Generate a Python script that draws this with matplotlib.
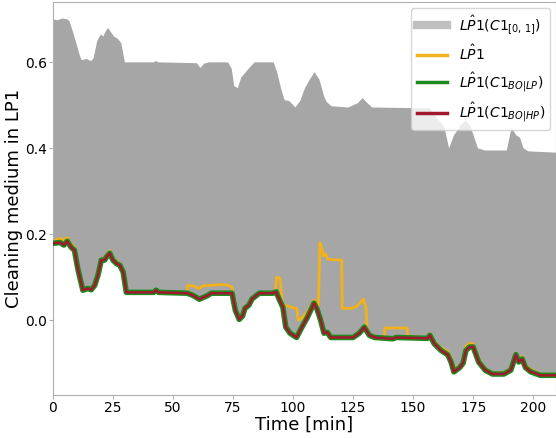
import numpy as np
import matplotlib
matplotlib.use("Agg")
import matplotlib.pyplot as plt
from matplotlib.lines import Line2D

# lower edge of the C1 sweep and the BO trajectories (time in min)
lp_t = [0, 3, 4.6, 6, 7.6, 9, 10.4, 12.5, 14.6, 16, 17.4, 18.8, 20.2, 21.6, 22.3,
        23.7, 25, 26.5, 27.9, 29.3, 30.6, 42, 43, 44, 56, 58.3, 61, 64.6, 66, 74.6,
        76, 77.6, 79, 80, 81.6, 83, 86, 91.5, 93, 94.4, 95.8, 97, 98.75, 101.5,
        103.7, 106, 108.75, 110, 111.5, 112.9, 114.3, 115.7, 125, 127.6, 129.7,
        131.8, 134, 141.6, 143, 156, 157, 158.75, 161.6, 164.4, 165.8, 167, 169.4,
        170.8, 172, 173.6, 175, 177.3, 180, 183, 187.8, 190.7, 192.8, 194, 195.4,
        196.8, 199, 203, 209.5]
lp_v = [0.179, 0.181, 0.175, 0.184, 0.170, 0.163, 0.120, 0.070, 0.074, 0.071, 0.081,
        0.105, 0.140, 0.140, 0.147, 0.156, 0.140, 0.132, 0.128, 0.112, 0.065, 0.065,
        0.070, 0.065, 0.063, 0.058, 0.049, 0.058, 0.063, 0.063, 0.023, 0.002, 0.010,
        0.028, 0.035, 0.050, 0.063, 0.063, 0.066, 0.047, 0.030, -0.016, -0.030,
        -0.040, -0.016, 0.007, 0.040, 0.026, 0.000, -0.030, -0.028, -0.040, -0.040,
        -0.030, -0.016, -0.035, -0.040, -0.043, -0.040, -0.042, -0.035, -0.054,
        -0.070, -0.080, -0.097, -0.120, -0.110, -0.100, -0.070, -0.062, -0.062,
        -0.097, -0.116, -0.125, -0.125, -0.116, -0.080, -0.097, -0.090, -0.110,
        -0.120, -0.128, -0.128]
hp_t = lp_t
hp_v = lp_v

# measured LP1
lp1_t = [0, 3, 4.6, 6, 7.6, 9, 10.4, 12.5, 14.6, 16, 17.4, 18.8, 20.2, 21.6, 22.3,
         23.7, 25, 26.5, 27.9, 29.3, 30.6, 42, 43, 44, 55.8, 56.2, 58.3, 61, 62.5,
         64.6, 70, 72.5, 74.6, 76, 77.6, 79, 80, 81.6, 83, 86, 91.5, 92.6, 93.2,
         94.6, 95.5, 96.5, 101.6, 102.2, 103.7, 106, 108.75, 110.6, 111.2, 111.8,
         112.6, 113.5, 114.5, 120.3, 120.5, 124.5, 126.5, 128.2, 129.2, 130.4,
         130.8, 131.8, 134, 138.1, 138.3, 147.5, 147.7, 156, 157, 158.75, 161.6,
         164.4, 165.8, 167, 169.4, 170.8, 172, 173.6, 175, 177.3, 180, 183, 187.8,
         190.7, 192.8, 194, 195.4, 196.8, 199, 203, 209.5]
lp1_v = [0.185, 0.190, 0.186, 0.192, 0.178, 0.170, 0.125, 0.072, 0.076, 0.073, 0.083,
         0.108, 0.143, 0.145, 0.152, 0.162, 0.145, 0.138, 0.132, 0.115, 0.066, 0.066,
         0.071, 0.066, 0.064, 0.081, 0.080, 0.074, 0.080, 0.081, 0.083, 0.082, 0.078,
         0.025, 0.004, 0.012, 0.030, 0.037, 0.052, 0.064, 0.064, 0.066, 0.100, 0.098,
         0.040, 0.035, 0.027, 0.000, 0.005, 0.020, 0.047, 0.035, 0.180, 0.172, 0.150,
         0.155, 0.142, 0.140, 0.028, 0.028, 0.032, 0.042, 0.050, 0.030, -0.018,
         -0.033, -0.038, -0.038, -0.018, -0.018, -0.038, -0.040, -0.031, -0.048,
         -0.064, -0.072, -0.085, -0.112, -0.106, -0.094, -0.060, -0.054, -0.054,
         -0.090, -0.112, -0.122, -0.122, -0.113, -0.077, -0.092, -0.084, -0.104,
         -0.114, -0.125, -0.126]

# upper edge of the C1 in [0, 1] sweep
up_t = [0, 2, 4, 6, 7, 9, 11, 12, 14, 16, 17, 18.5, 20, 21, 22, 23, 24, 25.5, 27,
        28.5, 30, 42, 43, 44, 60, 61.5, 63, 65, 73, 74.5, 75.5, 77, 78.5, 80, 82,
        84, 92, 93.5, 95, 96.5, 98.5, 101, 103, 105, 107, 109, 111, 113, 114, 116,
        123, 127, 129, 131, 133, 157, 160, 163, 165, 167, 170, 172, 174, 177, 180,
        189, 191, 193, 194.5, 196, 198, 209.5]
up_v = [0.700, 0.698, 0.702, 0.700, 0.695, 0.660, 0.620, 0.605, 0.608, 0.603, 0.610,
        0.650, 0.665, 0.660, 0.672, 0.680, 0.672, 0.660, 0.655, 0.645, 0.600, 0.600,
        0.603, 0.600, 0.598, 0.587, 0.597, 0.600, 0.600, 0.585, 0.545, 0.540, 0.565,
        0.575, 0.588, 0.600, 0.600, 0.575, 0.540, 0.512, 0.510, 0.495, 0.510, 0.540,
        0.560, 0.577, 0.560, 0.520, 0.508, 0.498, 0.495, 0.505, 0.517, 0.505, 0.495,
        0.493, 0.470, 0.450, 0.400, 0.430, 0.455, 0.465, 0.450, 0.400, 0.395, 0.395,
        0.447, 0.430, 0.425, 0.400, 0.393, 0.390]

band_col = "#a6a6a6"
lp1_col = "#f2b21b"
lp_col = "#1e8a1e"
hp_col = "#a3172f"

fig = plt.figure(figsize=(5.56, 4.38), dpi=100)
ax = fig.add_axes([0.095, 0.098, 0.905, 0.897])

band_x = np.r_[up_t, lp_t[::-1]]
band_y = np.r_[up_v, lp_v[::-1]]
ax.fill(band_x, band_y, color=band_col, lw=0, zorder=1)

ax.plot(lp1_t, lp1_v, color=lp1_col, lw=2, zorder=2)
ax.plot(lp_t, lp_v, color=lp_col, lw=4, zorder=3)
ax.plot(hp_t, hp_v, color=hp_col, lw=1.8, zorder=4)

ax.set_xlim(0, 209.5)
ax.set_ylim(-0.174, 0.74)
ax.set_xticks([0, 25, 50, 75, 100, 125, 150, 175, 200])
ax.set_yticks([0.0, 0.2, 0.4, 0.6])
ax.tick_params(labelsize=10, color="#b0b0b0", length=3, pad=1)
for s in ax.spines.values():
    s.set_color("#b0b0b0")

ax.set_xlabel("Time [min]", fontsize=13, labelpad=1)
ax.set_ylabel("Cleaning medium in LP1", fontsize=13)
ax.yaxis.set_label_coords(-0.06, 0.5)

handles = [Line2D([], [], color="#bfbfbf", lw=6),
           Line2D([], [], color=lp1_col, lw=2.5),
           Line2D([], [], color=lp_col, lw=2.5),
           Line2D([], [], color=hp_col, lw=2.5)]
labels = [r"$L\hat{P}1(C1_{[0,\,1]})$", r"$L\hat{P}1$",
          r"$L\hat{P}1(C1_{BO|LP})$", r"$L\hat{P}1(C1_{BO|HP})$"]
ax.legend(handles, labels, loc="upper right", fontsize=10,
          borderaxespad=0.4, handlelength=2.2)

fig.savefig("out.png", dpi=100)
